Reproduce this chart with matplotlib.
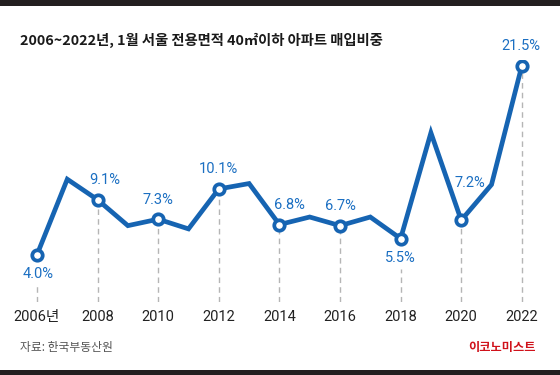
import matplotlib
matplotlib.use("Agg")
import matplotlib.pyplot as plt

plt.rcParams['font.family'] = ['Roboto', 'Noto Sans CJK KR', 'DejaVu Sans']

# data (%)
years = list(range(2006, 2023))
share = [4.0, 11.0, 9.1, 6.7, 7.3, 6.4, 10.1, 10.6, 6.8, 7.5, 6.7, 7.5, 5.5, 15.3, 7.2, 10.5, 21.5]
label_years = [2006, 2008, 2010, 2012, 2014, 2016, 2018, 2020, 2022]
tick_labels = ['2006년', '2008', '2010', '2012', '2014', '2016', '2018', '2020', '2022']

title = '2006~2022년, 1월 서울 전용면적 40㎡이하 아파트 매입비중'
source = '자료: 한국부동산원'
brand = '이코노미스트'

blue = '#1664b2'
label_blue = '#1b6fc2'

W, H = 560, 375
fig = plt.figure(figsize=(W / 100, H / 100), dpi=100)
fig.patch.set_facecolor('white')

# dark bars top and bottom
fig.add_artist(plt.Rectangle((0, 1 - 6 / H), 1, 6 / H, transform=fig.transFigure,
                             color='#231f20', lw=0))
fig.add_artist(plt.Rectangle((0, 0), 1, 5 / H, transform=fig.transFigure,
                             color='#231f20', lw=0))

ax = fig.add_axes([20 / W, 73 / H, 520 / W, 242 / H])
ax.set_xlim(2005.44, 2022.60)
ax.set_ylim(-0.37, 22.04)
for s in ax.spines.values():
    s.set_visible(False)
ax.set_yticks([])
ax.set_xticks(label_years)
ax.set_xticklabels(tick_labels, fontsize=10.5, color='#222222')
ax.tick_params(axis='x', length=0, pad=6)

vals = dict(zip(years, share))
below = {2006, 2018}

# dashed guides
for y in label_years:
    top = vals[y] - 2.8 if y in below else vals[y]
    ax.plot([y, y], [-0.37, top], color='#b5b5b5', lw=1, dashes=(4, 3), zorder=1)

ax.plot(years, share, color=blue, lw=3.4, solid_joinstyle='miter', zorder=2)
ax.plot(label_years, [vals[y] for y in label_years], 'o', ms=7.5, mfc='white',
        mec=blue, mew=2.7, zorder=3)

offsets = {2006: (1, -14), 2008: (5, 14), 2010: (0, 14), 2012: (0, 14), 2014: (7, 14),
           2016: (0, 14), 2018: (0, -14), 2020: (6, 27), 2022: (-1, 14)}
for y in label_years:
    ax.annotate(f'{vals[y]:.1f}%', (y, vals[y]), xytext=offsets[y], textcoords='offset points',
                ha='center', va='center', fontsize=10.5, color=label_blue)

fig.text(20 / W, 1 - 40 / H, title, fontsize=10.3, fontweight='bold', color='#1a1a1a',
         va='center', ha='left', family=['Noto Sans CJK KR'])
fig.text(20 / W, 1 - 347 / H, source, fontsize=8.5, color='#555555', va='center', ha='left',
         family=['Noto Sans CJK KR'])
fig.text(536 / W, 1 - 347 / H, brand, fontsize=8.8, fontweight='bold', color='#d0121b',
         va='center', ha='right', family=['Noto Sans CJK KR'])

fig.savefig('out.png', dpi=100)
